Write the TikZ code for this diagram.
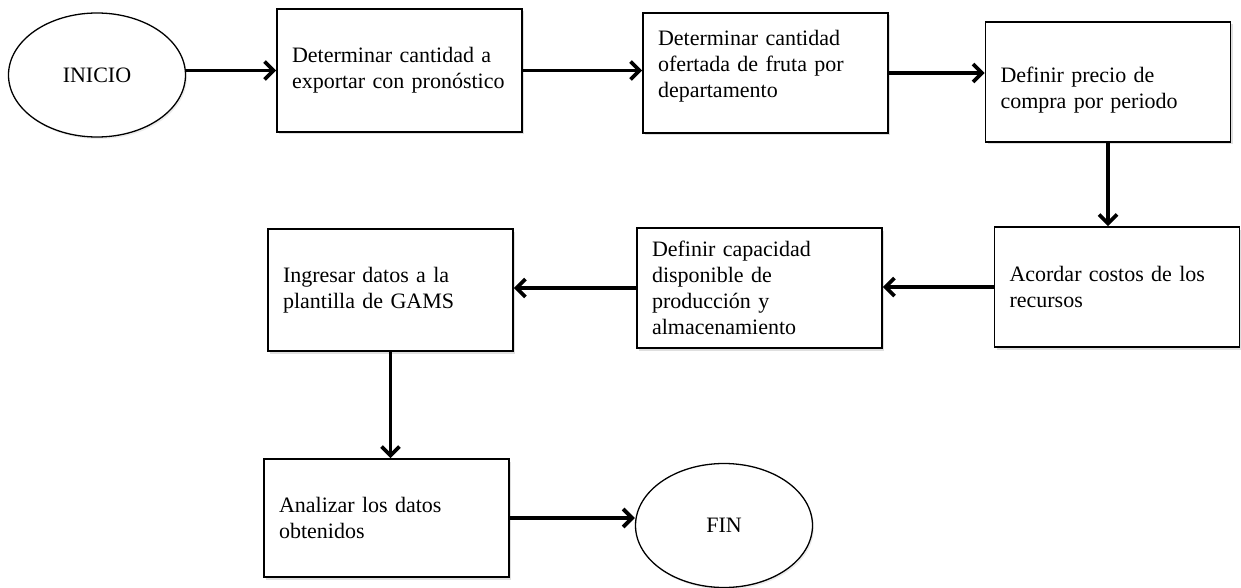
\documentclass[tikz,border=0pt]{standalone}
\usepackage{fontspec}
\setmainfont{Liberation Serif}
\usetikzlibrary{arrows.meta,shapes.geometric,shadows}

\begin{document}
\begin{tikzpicture}[x=1pt,y=-1pt]
		\tikzstyle{paso}=[draw,line width=1.6pt,fill=white,text width=215pt,inner xsep=15pt,minimum height=120pt,align=left,font=\fontsize{22}{26}\selectfont,drop shadow={shadow xshift=2pt,shadow yshift=-2.5pt,opacity=.25}]
		\tikzstyle{limite}=[draw,ellipse,line width=1.3pt,fill=white,minimum width=177pt,minimum height=124pt,inner sep=0pt,font=\fontsize{22}{26}\selectfont,drop shadow={shadow xshift=1.5pt,shadow yshift=-2pt,opacity=.15}]
		\tikzstyle{flecha}=[-{Straight Barb[length=9pt,width=18pt]},line width=3.8pt]

		\useasboundingbox (0,0) rectangle (1241,588);

		%start
		\node[limite] (inicio) at (97,75) {INICIO};
		%first row
		\node[paso,minimum height=123pt] (cantidad) at (399.5,70.5) {Determinar cantidad a\\exportar con pronóstico};
		\node[paso] (oferta) at (765.5,73) {Determinar cantidad\\ofertada de fruta por\\departamento\rule[-18pt]{0pt}{0pt}};
		\node[paso] (precio) at (1108,82) {\rule{0pt}{32pt}Definir precio de\\compra por periodo};
		%second row
		\node[paso] (costos) at (1117,287) {Acordar costos de los\\recursos};
		\node[paso] (capacidad) at (759.5,288) {Definir capacidad\\disponible de\\producción y\\almacenamiento};
		\node[paso,minimum height=122pt] (gams) at (390.5,290) {Ingresar datos a la\\plantilla de GAMS};
		%third row
		\node[paso,minimum height=118pt] (analizar) at (386.5,518) {Analizar los datos\\obtenidos};
		\node[limite] (fin) at (724,525.5) {FIN};

		%arrows
		\draw[flecha] (inicio.east |- cantidad.west) -- (cantidad.west);
		\draw[flecha] (cantidad.east) -- (cantidad.east -| oferta.west);
		\draw[flecha] (oferta.east) -- (oferta.east -| precio.west);
		\draw[flecha] (precio.south) -- (precio.south |- costos.north);
		\draw[flecha] (costos.west) -- (costos.west -| capacidad.east);
		\draw[flecha] (capacidad.west) -- (capacidad.west -| gams.east);
		\draw[flecha] (gams.south) -- (gams.south |- analizar.north);
		\draw[flecha] (analizar.east) -- (analizar.east -| fin.west);
	\end{tikzpicture}
\end{document}
